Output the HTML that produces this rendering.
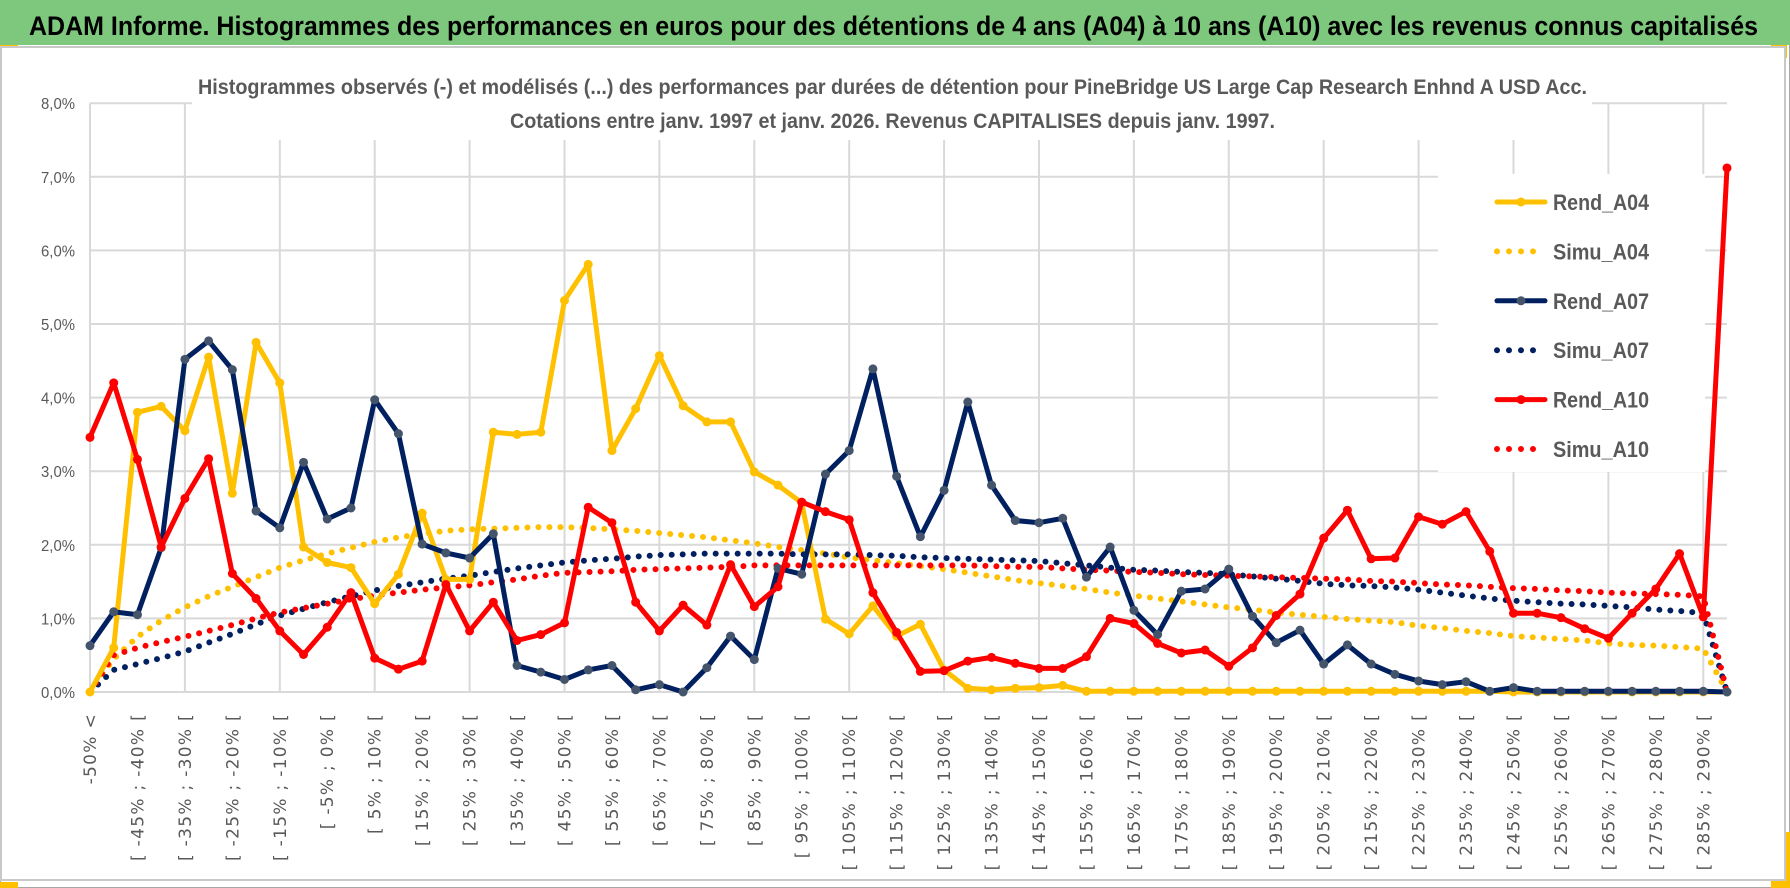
<!DOCTYPE html>
<html><head><meta charset="utf-8"><style>
html,body{margin:0;padding:0;background:#fff;}
svg{display:block;}
</style></head><body>
<svg id="chart" width="1790" height="888" viewBox="0 0 1790 888" xmlns="http://www.w3.org/2000/svg">
  <rect x="0" y="0" width="1790" height="888" fill="#ffffff"/>
  <rect x="0.5" y="0.5" width="1789" height="887" fill="none" stroke="#a6a6a6" stroke-width="1"/>
  <rect x="0" y="0" width="1790" height="45" fill="#7ec87e"/>
  <text x="29" y="35" font-family="'Liberation Sans', sans-serif" font-weight="bold" font-size="27" fill="#000" textLength="1729" lengthAdjust="spacingAndGlyphs">ADAM Informe. Histogrammes des performances en euros pour des détentions de 4 ans (A04) à 10 ans (A10) avec les revenus connus capitalisés</text>
  <rect x="0" y="45" width="18" height="3" fill="#ffc000"/>
  <rect x="1771" y="45" width="16" height="13" fill="#ffc000"/>
  <rect x="1771" y="832" width="19" height="56" fill="#ffc000"/>
  <rect x="0" y="882" width="18" height="6" fill="#ffc000"/>
  <rect x="1" y="47" width="1784" height="833" fill="#ffffff" stroke="#c8c8c8" stroke-width="2"/>
  <g id="grid"></g>
  <g id="yaxis"></g>
  <g id="xaxis"></g>
  <rect x="192" y="72" width="1400" height="68" fill="#fff"/>
  <text x="198" y="94" font-family="'Liberation Sans', sans-serif" font-weight="bold" font-size="21" fill="#595959" textLength="1389" lengthAdjust="spacingAndGlyphs">Histogrammes observés (-) et modélisés (...) des performances par durées de détention pour PineBridge US Large Cap Research Enhnd A USD Acc.</text>
  <text x="510" y="128" font-family="'Liberation Sans', sans-serif" font-weight="bold" font-size="21" fill="#595959" textLength="765" lengthAdjust="spacingAndGlyphs">Cotations entre janv. 1997 et janv. 2026. Revenus CAPITALISES depuis janv. 1997.</text>
  <g id="series"></g>
  <g id="legend"></g>
</svg>
<script>
const simuA04 = [0,0.45,0.75,0.97,1.15,1.3,1.43,1.56,1.69,1.79,
1.88,1.96,2.04,2.1,2.15,2.19,2.21,2.22,2.23,2.24,
2.24,2.23,2.21,2.19,2.16,2.13,2.1,2.06,2.02,1.97,
1.93,1.88,1.83,1.79,1.75,1.71,1.67,1.62,1.57,1.52,
1.48,1.44,1.4,1.35,1.31,1.27,1.23,1.19,1.15,1.12,
1.08,1.05,1.02,0.99,0.97,0.95,0.9,0.87,0.83,0.8,
0.76,0.74,0.72,0.7,0.66,0.64,0.63,0.61,0.59,0];
const simuA07 = [0,0.3,0.38,0.46,0.55,0.67,0.79,0.92,1.04,1.13,
1.22,1.3,1.38,1.44,1.49,1.54,1.58,1.63,1.68,1.72,
1.76,1.79,1.81,1.84,1.86,1.87,1.88,1.88,1.88,1.88,
1.87,1.87,1.87,1.86,1.85,1.83,1.82,1.81,1.8,1.79,
1.78,1.75,1.72,1.69,1.66,1.65,1.63,1.62,1.6,1.57,
1.54,1.51,1.47,1.45,1.44,1.42,1.39,1.35,1.31,1.27,
1.24,1.22,1.2,1.19,1.17,1.15,1.12,1.1,1.07,0];
const simuA10 = [0,0.5,0.6,0.68,0.75,0.83,0.91,1.0,1.08,1.14,
1.2,1.26,1.31,1.35,1.39,1.42,1.45,1.49,1.53,1.58,
1.62,1.63,1.64,1.66,1.67,1.68,1.69,1.7,1.72,1.72,
1.72,1.72,1.72,1.72,1.72,1.72,1.72,1.72,1.71,1.7,
1.7,1.68,1.66,1.65,1.63,1.62,1.6,1.59,1.58,1.57,
1.56,1.55,1.54,1.53,1.51,1.5,1.48,1.46,1.45,1.43,
1.41,1.4,1.38,1.37,1.35,1.34,1.33,1.32,1.3,0];
const rendA04 = [0,0.6,3.8,3.88,3.55,4.55,2.7,4.75,4.2,1.97,
1.76,1.69,1.2,1.6,2.43,1.53,1.53,3.53,3.5,3.53,
5.32,5.81,3.28,3.85,4.57,3.89,3.67,3.67,2.99,2.81,
2.57,0.99,0.79,1.17,0.76,0.92,0.3,0.05,0.03,0.05,
0.06,0.09,0.01,0.01,0.01,0.01,0.01,0.01,0.01,0.01,
0.01,0.01,0.01,0.01,0.01,0.01,0.01,0.01,0.01,0.01,
0,0,0,0,0,0,0,0,0,0];
const rendA07 = [0.63,1.09,1.05,1.96,4.52,4.77,4.38,2.46,2.23,3.12,
2.35,2.5,3.97,3.51,2.01,1.89,1.82,2.15,0.36,0.27,
0.17,0.3,0.36,0.03,0.1,0.0,0.33,0.76,0.44,1.68,
1.6,2.96,3.28,4.39,2.93,2.11,2.74,3.94,2.81,2.33,
2.3,2.36,1.56,1.97,1.11,0.78,1.37,1.4,1.67,1.03,
0.67,0.84,0.38,0.64,0.38,0.24,0.15,0.1,0.14,0.01,
0.06,0.01,0.01,0.01,0.01,0.01,0.01,0.01,0.01,0];
const rendA10 = [3.46,4.2,3.16,1.97,2.63,3.17,1.61,1.27,0.83,0.51,
0.88,1.35,0.46,0.31,0.42,1.46,0.83,1.22,0.7,0.78,
0.94,2.51,2.3,1.22,0.83,1.18,0.91,1.73,1.16,1.43,
2.58,2.45,2.34,1.35,0.81,0.28,0.29,0.42,0.47,0.39,
0.32,0.32,0.48,1.0,0.93,0.66,0.53,0.57,0.35,0.6,
1.04,1.33,2.09,2.47,1.81,1.82,2.38,2.28,2.45,1.91,
1.07,1.07,1.01,0.86,0.73,1.07,1.4,1.88,1.02,7.12];
const yTicks = ["0,0%","1,0%","2,0%","3,0%","4,0%","5,0%","6,0%","7,0%","8,0%"];
const categories = [];
categories.push("-50% <");
for (let k = 1; k < 70; k++) { const a = -50 + 5*(k-1); categories.push("[ " + a + "% ; " + (a+5) + "% ["); }

const NS = "http://www.w3.org/2000/svg";
const X0 = 90, X1 = 1727, Y0 = 692, YPER = 73.6;
const n = categories.length;
function xs(i){ return X0 + i*(X1-X0)/(n-1); }
function ys(v){ return Y0 - v*YPER; }
function mk(tag, attrs, parent){ const e = document.createElementNS(NS, tag); for (const k in attrs) e.setAttribute(k, attrs[k]); parent.appendChild(e); return e; }

const grid = document.getElementById('grid');
for (let t = 0; t < yTicks.length; t++) {
  const l = mk('line', {x1:X0, x2:X1, y1:ys(t), y2:ys(t), stroke:'#d9d9d9', 'stroke-width':2}, grid);
  
  
}
for (let i = 0; i < n; i += 4) {
  const l = mk('line', {x1:xs(i), x2:xs(i), y1:ys(8), y2:Y0, stroke:'#d9d9d9', 'stroke-width':2}, grid);
  
  
}
const yaxis = document.getElementById('yaxis');
yTicks.forEach((lab, t) => {
  const tx = mk('text', {x:75, y:ys(t)+6, 'text-anchor':'end', 'font-family':"'Liberation Sans', sans-serif", 'font-size':16, fill:'#595959', textLength:34, lengthAdjust:'spacingAndGlyphs'}, yaxis);
  tx.textContent = lab;
  
  
});
const xaxis = document.getElementById('xaxis');
for (let i = 0; i < n; i += 2) {
  const x = xs(i) + 6, y = 713;
  const tx = mk('text', {x:x, y:y, transform:'rotate(-90 '+x+' '+y+')', 'text-anchor':'end', 'font-family':"'DejaVu Sans', sans-serif", 'font-size':17, 'letter-spacing':1.3, fill:'#595959'}, xaxis);
  tx.textContent = categories[i];
  
  
}

const series = document.getElementById('series');
function pts(arr){ return arr.map((v,i)=>xs(i).toFixed(1)+','+ys(v).toFixed(1)).join(' '); }
function dotted(arr, color, name){
  const p = mk('polyline', {points:pts(arr), fill:'none', stroke:color, 'stroke-width':6, 'stroke-linecap':'round', 'stroke-dasharray':'0 11'}, series);
  
  
}
function solid(arr, color, mcolor, name){
  const g = mk('g', {}, series);
  
  
  const p = mk('polyline', {points:pts(arr), fill:'none', stroke:color, 'stroke-width':5, 'stroke-linejoin':'round'}, g);
  
  
  arr.forEach((v,i)=>{
    const c = mk('circle', {cx:xs(i), cy:ys(v), r:4.5, fill:mcolor}, g);
    
    
  });
}
dotted(simuA04, '#ffc000', 'simu-a04-series');
dotted(simuA07, '#002060', 'simu-a07-series');
dotted(simuA10, '#ff0000', 'simu-a10-series');
solid(rendA04, '#ffc000', '#ffc000', 'rend-a04-series');
solid(rendA07, '#002060', '#44546a', 'rend-a07-series');
solid(rendA10, '#ff0000', '#ff0000', 'rend-a10-series');

const legend = document.getElementById('legend');
const lb = mk('rect', {x:1438, y:174, width:267, height:298, fill:'#fff'}, legend);


const legItems = [
  ['Rend_A04','#ffc000','#ffc000',false],['Simu_A04','#ffc000','',true],
  ['Rend_A07','#002060','#44546a',false],['Simu_A07','#002060','',true],
  ['Rend_A10','#ff0000','#ff0000',false],['Simu_A10','#ff0000','',true]];
legItems.forEach((it, k) => {
  const y = 202 + k*49.4;
  const g = mk('g', {}, legend);
  
  
  if (it[3]) {
    const l = mk('line', {x1:1497, x2:1545, y1:y, y2:y, stroke:it[1], 'stroke-width':6, 'stroke-linecap':'round', 'stroke-dasharray':'0 12'}, g);
    
    
  } else {
    const l = mk('line', {x1:1497, x2:1545, y1:y, y2:y, stroke:it[1], 'stroke-width':5, 'stroke-linecap':'round'}, g);
    
    
    const c = mk('circle', {cx:1521, cy:y, r:4.5, fill:it[2]}, g);
    
    
  }
  const t = mk('text', {x:1553, y:y+8, 'font-family':"'Liberation Sans', sans-serif", 'font-weight':'bold', 'font-size':22, fill:'#595959', textLength:96, lengthAdjust:'spacingAndGlyphs'}, g);
  t.textContent = it[0];
  
  
});
</script>
</body></html>
